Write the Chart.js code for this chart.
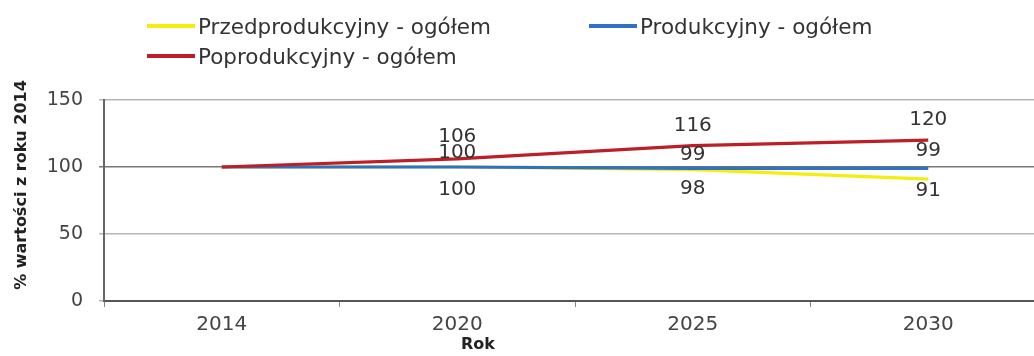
<!DOCTYPE html>
<html lang="pl">
<head>
<meta charset="UTF-8">
<title>% wartości z roku 2014</title>
<script src="https://cdn.jsdelivr.net/npm/chart.js"></script>
<style>
  html, body { margin: 0; padding: 0; background: #fff; overflow: hidden; }
  #wrap { position: relative; width: 1050px; height: 356px; }
  #legend { position: absolute; left: 0; top: 0; font-family: "DejaVu Sans", Verdana, sans-serif; font-size: 21.5px; color: #333; }
  .item { position: absolute; white-space: nowrap; display: flex; align-items: center; height: 26px; }
  .swatch { display: inline-block; width: 48px; height: 4px; margin-right: 3px; }
</style>
</head>
<body>
<div id="wrap">
  <canvas id="chart" width="1050" height="356"></canvas>
  <div id="legend"></div>
</div>
<script>
// dane
const years = ['2014', '2020', '2025', '2030'];
const przedprodukcyjny = [100, 100, 98, 91];
const produkcyjny = [100, 100, 99, 99];
const poprodukcyjny = [100, 106, 116, 120];
const seriesNames = ['Przedprodukcyjny - ogółem', 'Produkcyjny - ogółem', 'Poprodukcyjny - ogółem'];
const yTicks = [0, 50, 100, 150];

const colors = ['#f2ee0e', '#2f72c4', '#bd1f28'];
// przesuniecie etykiet wartosci wzgledem punktu (jak na oryginale)
const labelOffset = [
  [0, 23, 19, 12],
  [0, -14, -14, -18],
  [0, -22, -20, -20]
];
// pozycje legendy (lewo, srodek wiersza)
const legendPos = [[147, 26], [589, 26], [147, 56]];

const legend = document.getElementById('legend');
seriesNames.forEach((name, i) => {
  const el = document.createElement('div');
  el.className = 'item';
  el.style.left = legendPos[i][0] + 'px';
  el.style.top = (legendPos[i][1] - 13) + 'px';
  el.innerHTML = '<span class="swatch" style="background:' + colors[i] + '"></span>' + name;
  legend.appendChild(el);
});

const valueLabels = {
  id: 'valueLabels',
  afterDatasetsDraw(chart) {
    const ctx = chart.ctx;
    ctx.save();
    ctx.font = '20px "DejaVu Sans", Verdana, sans-serif';
    ctx.fillStyle = '#333';
    ctx.textAlign = 'center';
    ctx.textBaseline = 'middle';
    chart.data.datasets.forEach((ds, d) => {
      const meta = chart.getDatasetMeta(d);
      meta.data.forEach((pt, i) => {
        if (i === 0) return;
        ctx.fillText(ds.data[i], pt.x, pt.y + labelOffset[d][i]);
      });
    });
    ctx.restore();
  }
};

// tytuly osi rysowane recznie - na oryginale nie sa wysrodkowane
const axisTitles = {
  id: 'axisTitles',
  afterDraw(chart) {
    const ctx = chart.ctx;
    ctx.save();
    ctx.font = 'bold 16px "DejaVu Sans", Verdana, sans-serif';
    ctx.fillStyle = '#222';
    ctx.textAlign = 'center';
    ctx.textBaseline = 'middle';
    ctx.fillText('Rok', 478, 345);
    ctx.translate(22, 185);
    ctx.rotate(-Math.PI / 2);
    ctx.fillText('% wartości z roku 2014', 0, 0);
    ctx.restore();
  }
};

new Chart(document.getElementById('chart'), {
  type: 'line',
  data: {
    labels: years,
    datasets: [
      { label: seriesNames[0], data: przedprodukcyjny, borderColor: colors[0], order: 3 },
      { label: seriesNames[1], data: produkcyjny, borderColor: colors[1], order: 2 },
      { label: seriesNames[2], data: poprodukcyjny, borderColor: colors[2], order: 1 }
    ]
  },
  options: {
    responsive: false,
    animation: false,
    devicePixelRatio: 1,
    layout: { padding: { top: 100, right: 4, left: 0, bottom: 0 } },
    elements: {
      line: { borderWidth: 3.2, tension: 0 },
      point: { radius: 0 }
    },
    plugins: {
      legend: { display: false },
      tooltip: { enabled: false }
    },
    scales: {
      x: {
        offset: true,
        grid: { offset: true, drawOnChartArea: false, drawTicks: true, tickLength: 6, color: '#888' },
        border: { color: '#555', width: 2 },
        ticks: {
          font: { family: '"DejaVu Sans", Verdana, sans-serif', size: 20 },
          color: '#444',
          padding: 6
        },
        afterFit(scale) { scale.height = 55; }
      },
      y: {
        min: 0,
        max: 150,
        afterBuildTicks(scale) { scale.ticks = yTicks.map(v => ({ value: v })); },
        grid: {
          color: ctx => ctx.tick && ctx.tick.value === 100 ? '#777' : '#b5b5b5',
          tickLength: 5,
          lineWidth: 1.5
        },
        border: { color: '#666', width: 2 },
        ticks: {
          font: { family: '"DejaVu Sans", Verdana, sans-serif', size: 19 },
          color: '#444',
          padding: 16
        },
        afterFit(scale) { scale.width = 104; }
      }
    }
  },
  plugins: [valueLabels, axisTitles]
});
</script>
</body>
</html>
